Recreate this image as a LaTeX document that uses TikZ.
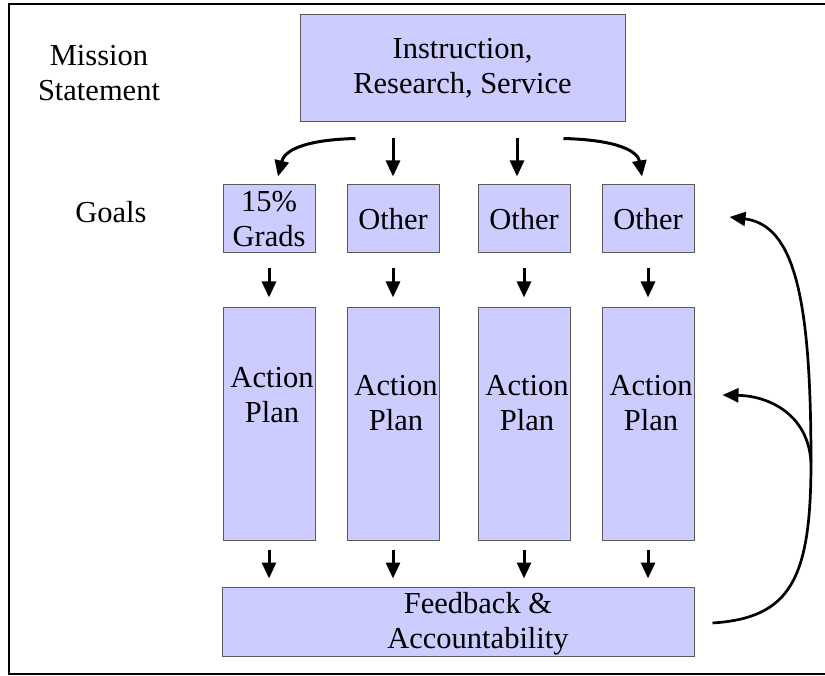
\documentclass[tikz,border=0pt]{standalone}
\usepackage{fontspec}
\setmainfont{Liberation Serif}
\usepackage{tikz}
\usetikzlibrary{calc,arrows.meta}
\usepackage{xcolor}
\definecolor{boxfill}{HTML}{CCCCFF}
\definecolor{boxedge}{HTML}{5A5A5A}
\tikzset{
  plan/.style={draw=boxedge, fill=boxfill, line width=1pt, inner sep=0pt, align=center},
  tag/.style={inner sep=0pt, align=center},
  stub/.style={line width=3pt, -{Triangle[width=14pt,length=16pt]}},
  loop/.style={line width=2.7pt, -{Triangle[width=14pt,length=16pt]}}
}
\begin{document}
\begin{tikzpicture}[x=1pt, y=-1pt, every node/.style={font=\fontsize{30.5}{35}\selectfont}]
\useasboundingbox (0,0) rectangle (825,676);
\draw [line width=2.6pt] (9,4) rectangle (832,674);
\node [tag] (mis) at (99,73) {Mission\\Statement};
\node [tag] (gls) at (111,212) {Goals};
\node [plan, minimum width=325pt, minimum height=107pt] (top) at (462.5,68.5) {Instruction,\\Research, Service};
\node [plan, minimum width=92pt, minimum height=68pt] (g1) at (269,219) {15\%\\Grads};
\node [plan, minimum width=92pt, minimum height=68pt] (g2) at (393,219) {Other};
\node [plan, minimum width=92pt, minimum height=68pt] (g3) at (524,219) {Other};
\node [plan, minimum width=92pt, minimum height=68pt] (g4) at (648,219) {Other};
\node [plan, minimum width=92pt, minimum height=232pt] (a1) at (269,424) {};
\node [plan, minimum width=92pt, minimum height=232pt] (a2) at (393,424) {};
\node [plan, minimum width=92pt, minimum height=232pt] (a3) at (524,424) {};
\node [plan, minimum width=92pt, minimum height=232pt] (a4) at (648,424) {};
\node [tag] (t1) at ($(a1.north)+(3,88)$) {Action\\Plan};
\node [tag] (t2) at ($(a2.north)+(3,96)$) {Action\\Plan};
\node [tag] (t3) at ($(a3.north)+(3,96)$) {Action\\Plan};
\node [tag] (t4) at ($(a4.north)+(3,96)$) {Action\\Plan};
\node [plan, minimum width=472pt, minimum height=69pt] (fb) at (458,621.5) {};
\node [tag] (tfb) at ($(fb.center)+(20,2)$) {Feedback \&\\Accountability};
\coordinate (g3in) at ($(g3.north)+(-7,0)$);
\draw [stub, shorten <=16pt, shorten >=8pt] (top.south -| g2) -- (g2);
\draw [stub, shorten <=16pt, shorten >=8pt] (top.south -| g3in) -- (g3in);
\draw [stub] ($(top.south)+(-107,16)$) .. controls (300,140) and (284,152) .. ($(g1.north)+(9,-8)$);
\draw [stub] ($(top.south)+(101,16)$) .. controls (620,140) and (638,152) .. ($(g4.north)+(-6,-8)$);
\draw [stub, shorten <=15pt, shorten >=10pt] (g1) -- (a1);
\draw [stub, shorten <=15pt, shorten >=10pt] (g2) -- (a2);
\draw [stub, shorten <=15pt, shorten >=10pt] (g3) -- (a3);
\draw [stub, shorten <=15pt, shorten >=10pt] (g4) -- (a4);
\draw [stub, shorten <=9pt, shorten >=8pt] (a1) -- (a1 |- fb.north);
\draw [stub, shorten <=9pt, shorten >=8pt] (a2) -- (a2 |- fb.north);
\draw [stub, shorten <=9pt, shorten >=8pt] (a3) -- (a3 |- fb.north);
\draw [stub, shorten <=9pt, shorten >=8pt] (a4) -- (a4 |- fb.north);
\coordinate (turn) at (811,462);
\draw [loop] ($(fb.east)+(18,1.5)$) .. controls (790,618) and (811,580) .. (turn) .. controls (811,300) and (795,225) .. ($(g4.east)+(35,-2)$);
\draw [loop] (turn) .. controls (808,415) and (770,396) .. ($(a4.east)+(28,-29)$);
\end{tikzpicture}
\end{document}
